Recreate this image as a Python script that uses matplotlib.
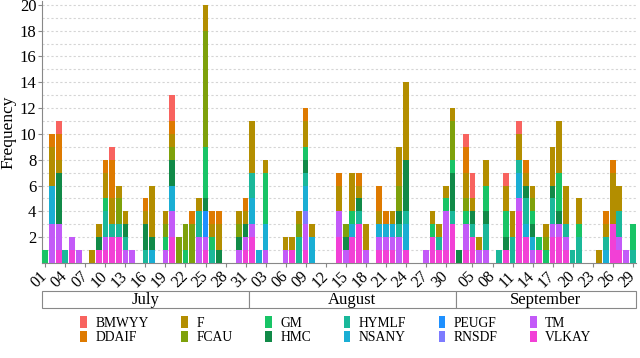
import numpy as np
import matplotlib
matplotlib.use('Agg')
import matplotlib.pyplot as plt
from matplotlib.patches import Patch, Rectangle
from matplotlib.transforms import blended_transform_factory

plt.rcParams['font.family'] = ['Liberation Serif', 'DejaVu Serif']

tickers = ['BMWYY', 'DDAIF', 'F', 'FCAU', 'GM', 'HMC',
           'HYMLF', 'NSANY', 'PEUGF', 'RNSDF', 'TM', 'VLKAY']
colors = ['#F8635F', '#DE7A00', '#B38E00', '#7EA10B', '#18C466', '#118A48',
          '#1AB89A', '#1AAED4', '#1E90FF', '#7D7BFF', '#C35AF8', '#F240D6']

months = ['July', 'August', 'September']
month_num = [7, 8, 9]
month_days = [list(range(1, 32)), list(range(1, 32)), list(range(3, 30))]
month_ticks = [list(range(1, 32, 3)), list(range(3, 31, 3)), list(range(5, 30, 3))]

# daily counts per ticker, key = 'MM-DD' (missing days are 0)
BMWYY = {'07-03': 1, '07-11': 1, '07-20': 2, '09-04': 1, '09-05': 2, '09-10': 1, '09-12': 1}
DDAIF = {'07-02': 1, '07-03': 2, '07-10': 1, '07-11': 3, '07-16': 1, '07-20': 1, '07-23': 1,
         '07-26': 1, '07-27': 1, '07-31': 1, '08-09': 1, '08-14': 1, '08-17': 1, '08-20': 2,
         '08-21': 1, '09-04': 2, '09-13': 1, '09-25': 1, '09-26': 1}
F = {'07-02': 3, '07-03': 1, '07-08': 1, '07-09': 1, '07-10': 2, '07-11': 2, '07-12': 1,
     '07-13': 1, '07-16': 1, '07-17': 4, '07-19': 1, '07-20': 1, '07-24': 1, '07-25': 2,
     '07-26': 1, '07-27': 2, '07-30': 1, '07-31': 1, '08-01': 4, '08-03': 1, '08-06': 1,
     '08-07': 1, '08-08': 1, '08-09': 2, '08-10': 1, '08-14': 2, '08-16': 3, '08-17': 1,
     '08-18': 2, '08-20': 1, '08-22': 1, '08-23': 3, '08-24': 6, '08-28': 1, '08-29': 1,
     '08-30': 1, '08-31': 1, '09-04': 2, '09-05': 1, '09-06': 1, '09-07': 2, '09-10': 2,
     '09-11': 2, '09-12': 2, '09-13': 1, '09-14': 1, '09-16': 1, '09-17': 3, '09-18': 4,
     '09-19': 3, '09-21': 2, '09-24': 1, '09-25': 1, '09-26': 4, '09-27': 2}
FCAU = {'07-12': 2, '07-19': 1, '07-20': 1, '07-21': 2, '07-22': 2, '07-23': 3, '07-25': 9,
        '07-30': 1, '08-08': 1, '08-15': 1, '08-23': 2, '08-31': 3, '09-04': 1, '09-14': 1,
        '09-16': 1}
GM = {'07-01': 1, '07-10': 1, '07-19': 1, '07-22': 1, '07-25': 4, '07-26': 1, '08-03': 4,
      '08-09': 1, '08-16': 1, '08-28': 1, '08-30': 1, '08-31': 1, '09-04': 1, '09-07': 2,
      '09-10': 2, '09-14': 1, '09-15': 1, '09-16': 1, '09-18': 3, '09-21': 1, '09-29': 2}
HMC = {'07-03': 4, '07-09': 1, '07-13': 1, '07-16': 2, '07-17': 1, '07-20': 2, '07-25': 1,
       '07-27': 1, '07-30': 1, '07-31': 1, '08-09': 1, '08-15': 1, '08-17': 1, '08-23': 1,
       '08-24': 4, '08-31': 3, '09-03': 1, '09-05': 1, '09-07': 1, '09-10': 1, '09-13': 1,
       '09-14': 1, '09-17': 1, '09-18': 1}
HYMLF = {'07-04': 1, '07-10': 2, '07-11': 1, '07-12': 1, '07-13': 1, '07-16': 1, '07-24': 2,
         '07-26': 1, '08-01': 2, '08-08': 2, '08-09': 1, '08-17': 1, '08-23': 1, '08-24': 1,
         '08-29': 1, '08-31': 1, '09-05': 1, '09-07': 2, '09-09': 1, '09-11': 2, '09-12': 1,
         '09-13': 2, '09-17': 2, '09-19': 1, '09-20': 1, '09-21': 2, '09-25': 1, '09-27': 2,
         '09-29': 1}
NSANY = {'07-02': 3, '07-17': 1, '07-20': 2, '08-01': 2, '08-02': 1, '08-03': 2, '08-09': 2,
         '08-10': 2, '08-16': 1, '08-20': 1, '08-21': 1, '08-22': 1, '08-24': 2, '09-12': 2,
         '09-13': 1, '09-14': 1, '09-25': 1}
PEUGF = {'07-25': 2}
RNSDF = {'08-09': 1}
TM = {'07-02': 3, '07-03': 2, '07-05': 1, '07-06': 1, '07-10': 1, '07-13': 1, '07-14': 1,
      '07-19': 1, '07-20': 2, '07-24': 2, '07-25': 1, '07-30': 1, '07-31': 1, '08-01': 1,
      '08-03': 1, '08-06': 1, '08-09': 2, '08-14': 2, '08-15': 1, '08-18': 1, '08-20': 1,
      '08-21': 1, '08-22': 1, '08-23': 2, '08-27': 1, '08-30': 3, '09-04': 2, '09-06': 1,
      '09-07': 1, '09-12': 1, '09-14': 1, '09-17': 1, '09-18': 1, '09-19': 1, '09-27': 1,
      '09-28': 1}
VLKAY = {'07-03': 1, '07-05': 1, '07-09': 1, '07-10': 1, '07-11': 2, '07-12': 2, '07-20': 2,
         '07-25': 1, '07-31': 1, '08-01': 2, '08-07': 1, '08-09': 1, '08-14': 2, '08-16': 2,
         '08-17': 3, '08-20': 1, '08-21': 1, '08-22': 1, '08-24': 1, '08-28': 2, '08-29': 1,
         '08-30': 1, '08-31': 3, '09-04': 1, '09-05': 2, '09-10': 1, '09-12': 4, '09-13': 2,
         '09-15': 1, '09-17': 2, '09-18': 2, '09-19': 1, '09-26': 3, '09-27': 1}

counts = {'BMWYY': BMWYY, 'DDAIF': DDAIF, 'F': F, 'FCAU': FCAU, 'GM': GM, 'HMC': HMC,
          'HYMLF': HYMLF, 'NSANY': NSANY, 'PEUGF': PEUGF, 'RNSDF': RNSDF, 'TM': TM,
          'VLKAY': VLKAY}

slot_keys = [f'{m:02d}-{d:02d}' for m, days in zip(month_num, month_days) for d in days]
x = np.arange(len(slot_keys))

fig = plt.figure(figsize=(6.4, 3.58), dpi=100)
ax = fig.add_axes([42 / 640, 1 - 263 / 358, (636 - 42) / 640, 262 / 358])

# stacked bars, first ticker on top
bottom = np.zeros(len(x))
for name, col in reversed(list(zip(tickers, colors))):
    vals = np.array([counts[name].get(k, 0) for k in slot_keys], dtype=float)
    ax.bar(x, vals, bottom=bottom, width=0.86, color=col, linewidth=0, zorder=3)
    bottom += vals

ax.set_xlim(-0.5, len(x) - 0.5)
ax.set_ylim(0, 20.3)
for yv in range(1, 21):
    ax.axhline(yv, color='#D5D5D5', lw=0.8, dashes=(2, 2), zorder=1)

ax.set_yticks(range(2, 21, 2))
tick_pos, tick_lab = [], []
for m, ticks in zip(month_num, month_ticks):
    for d in ticks:
        tick_pos.append(slot_keys.index(f'{m:02d}-{d:02d}'))
        tick_lab.append(f'{d:02d}')
ax.set_xticks(tick_pos)
ax.set_xticklabels(tick_lab, rotation=45, ha='right', va='center',
                   rotation_mode='anchor', fontsize=11.5)
ax.tick_params(axis='y', labelsize=12, length=3, color='#888888', pad=1)
ax.tick_params(axis='x', length=3, color='#888888', pad=5)
for s in ['top', 'right']:
    ax.spines[s].set_visible(False)
for s in ['left', 'bottom']:
    ax.spines[s].set_color('#888888')
    ax.spines[s].set_linewidth(0.8)
ax.set_ylabel('Frequency', fontsize=12.5, va='center')
ax.yaxis.set_label_coords(-0.056, 0.5)

# month strips below the axis
trans = blended_transform_factory(ax.transData, fig.transFigure)
y0, y1 = 1 - 308 / 358, 1 - 291 / 358
start = -0.5
for name, days in zip(months, month_days):
    end = start + len(days)
    fig.add_artist(Rectangle((start, y0), end - start, y1 - y0, transform=trans,
                             facecolor='white', edgecolor='#888888', lw=0.8, clip_on=False))
    fig.text((start + end) / 2, (y0 + y1) / 2, name, transform=trans,
             ha='center', va='center', fontsize=12)
    start = end

handles = [Patch(facecolor=c, edgecolor='none') for c in colors]
fig.legend(handles, tickers, ncol=6, loc='center', bbox_to_anchor=(0.525, 0.077),
           frameon=False, fontsize=9.8, handlelength=0.5, handleheight=0.9,
           handletextpad=0.6, columnspacing=2.4, labelspacing=0.1)

fig.savefig('out.png', dpi=100)
